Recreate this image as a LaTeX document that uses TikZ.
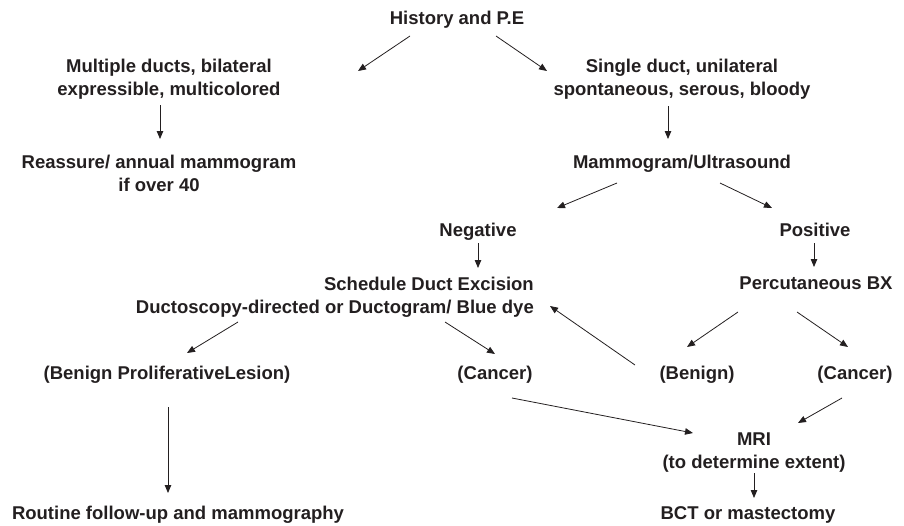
\documentclass[tikz,border=0pt]{standalone}
\usepackage{fontspec}
\setmainfont{Liberation Sans}
\usetikzlibrary{arrows.meta}
\definecolor{ink}{HTML}{231F20}
\begin{document}
\begin{tikzpicture}[x=1pt,y=-1pt,
		txt/.style={anchor=base,inner sep=0pt,align=center,text=ink,font=\fontsize{18.5}{23}\selectfont\bfseries},
		arr/.style={draw=ink,line width=0.8pt,-{Triangle[length=8pt,width=6.5pt]}}]
					\useasboundingbox (0,0) rectangle (904,525);
					\node[txt] (hist) at (457,24) {History and P.E};
					\node[txt] (multi) at (169,95) {Multiple ducts, bilateral\\expressible, multicolored};
					\node[txt] (single) at (682,95) {Single duct, unilateral\\spontaneous, serous, bloody};
					\node[txt] (reassure) at (159,191) {Reassure/ annual mammogram\\if over 40};
					\node[txt] (mammo) at (682,168) {Mammogram/Ultrasound};
					\node[txt] (neg) at (478,236) {Negative};
					\node[txt] (pos) at (815,236) {Positive};
					\node[txt,anchor=base east,align=right] (sched) at (534,313) {Schedule Duct Excision\\Ductoscopy-directed or Ductogram/ Blue dye};
					\node[txt] (perc) at (816,289) {Percutaneous BX};
					\node[txt] (bpl) at (167,379) {(Benign ProliferativeLesion)};
					\node[txt] (cancA) at (495,379) {(Cancer)};
					\node[txt] (benign) at (697,379) {(Benign)};
					\node[txt] (cancB) at (855,379) {(Cancer)};
					\node[txt] (mri) at (754,468) {MRI\\(to determine extent)};
					\node[txt] (routine) at (178,519) {Routine follow-up and mammography};
					\node[txt] (bct) at (748,519) {BCT or mastectomy};
					\draw[arr] ([shift={(-47,12)}]hist.base) -- ([shift={(189,-24)}]multi.base);
					\draw[arr] ([shift={(39,12)}]hist.base) -- ([shift={(-135,-24)}]single.base);
					\draw[arr] ([shift={(-9,10)}]multi.base) -- ([shift={(1,-52)}]reassure.base);
					\draw[arr] ([shift={(-14,11)}]single.base) -- ([shift={(-14,-29)}]mammo.base);
					\draw[arr] ([shift={(-65,15)}]mammo.base) -- ([shift={(79,-28)}]neg.base);
					\draw[arr] ([shift={(38,15)}]mammo.base) -- ([shift={(-43,-28)}]pos.base);
					\draw[arr] ([shift={(0,7)}]neg.base) -- ([shift={(-56,-45)}]sched.base east);
					\draw[arr] ([shift={(-1,7)}]pos.base) -- ([shift={(-2,-22)}]perc.base);
					\draw[arr] ([shift={(-296,9)}]sched.base east) -- ([shift={(20,-26)}]bpl.base);
					\draw[arr] ([shift={(-89,9)}]sched.base east) -- ([shift={(0,-25)}]cancA.base);
					\draw[arr] ([shift={(-62,-14)}]benign.base) -- ([shift={(16,-7)}]sched.base east);
					\draw[arr] ([shift={(-78,23)}]perc.base) -- ([shift={(-10,-32)}]benign.base);
					\draw[arr] ([shift={(-19,23)}]perc.base) -- ([shift={(-7,-32)}]cancB.base);
					\draw[arr] ([shift={(1,28)}]bpl.base) -- ([shift={(-10,-26)}]routine.base);
					\draw[arr] ([shift={(17,19)}]cancA.base) -- ([shift={(-61,-35)}]mri.base);
					\draw[arr] ([shift={(-13,19)}]cancB.base) -- ([shift={(44,-45)}]mri.base);
					\draw[arr] ([shift={(0,5)}]mri.base) -- ([shift={(6,-21)}]bct.base);
				\end{tikzpicture}
\end{document}
